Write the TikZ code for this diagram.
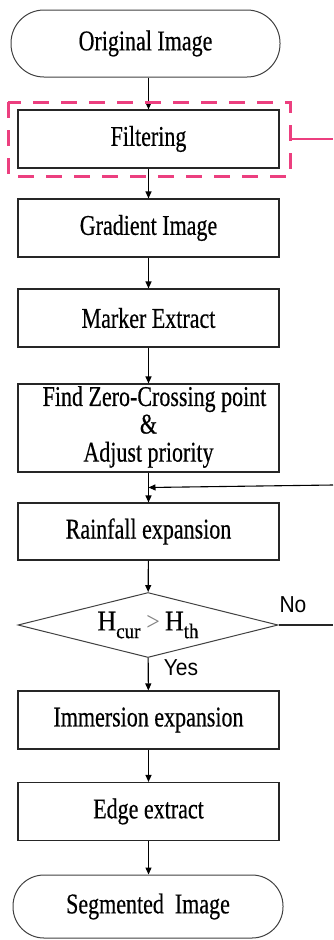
\documentclass[tikz,border=0pt]{standalone}
\usepackage{fontspec}
\usepackage{graphicx}
\setmainfont{Liberation Serif}[FakeBold=0.5]
\newfontfamily\labelsans{Liberation Sans}
\usetikzlibrary{arrows.meta,shapes.geometric,calc}
\definecolor{hilite}{HTML}{EC3F7F}
% step captions are set in a tall, narrow serif
\newcommand{\tallT}[1]{\scalebox{1}[1.3]{#1}}
\newcommand{\tallS}[1]{\scalebox{1}[1.1]{#1}}
\begin{document}
\begin{tikzpicture}[x=1pt,y=-1pt,
  every node/.style={font=\fontsize{22}{27.5}\selectfont},
  stepbox/.style={draw=black!85,line width=1.1pt,minimum width=261pt,minimum height=58pt,inner sep=0pt,align=center},
  terminal/.style={draw=black!75,line width=1pt,minimum width=269pt,minimum height=67pt,rounded corners=33pt},
  decision/.style={draw=black!75,line width=1pt,diamond,aspect=4,minimum width=260pt,minimum height=65pt,inner sep=0pt},
  flow/.style={draw=black,line width=1.1pt,-{Triangle[length=7pt,width=6pt]}},
  tag/.style={font=\labelsans\fontsize{21}{21}\selectfont}]
\useasboundingbox (0,0) rectangle (333,940);

% process chain
\node[terminal] (orig) at (145.5,43.5) {\tallT{Original Image}};
\node[stepbox] (filt) at (148.5,139) {\tallT{Filtering}};
\node[stepbox] (grad) at (148.5,228) {\tallT{Gradient Image}};
\node[stepbox] (mark) at (148.5,318) {\tallT{Marker Extract}};
\node[stepbox,minimum height=88pt] (zero) at (148.5,428)
  {\fontsize{22}{21.2}\selectfont\tallT{\begin{tabular}{@{}c@{}}\hspace{12pt}Find Zero-Crossing point\\\&\\Adjust priority\end{tabular}}};
\node[stepbox,minimum height=57pt] (rain) at (148.5,531.5) {\tallT{Rainfall expansion}};
\node[decision] (cmp) at (148,625)
  {\tallS{\fontsize{26}{26}\selectfont H\raisebox{-7pt}{\fontsize{19}{19}\selectfont cur}\hspace{6pt}{\fontsize{24}{24}\fontspec{Liberation Serif}\color{black!50}>}\hspace{5pt}H\raisebox{-7pt}{\fontsize{19}{19}\selectfont th}}};
\node[stepbox] (imm) at (148.5,720) {\tallT{Immersion expansion}};
\node[stepbox] (edge) at (148.5,811.5) {\tallT{Edge extract}};
\node[terminal,minimum width=270pt,minimum height=63pt,rounded corners=31pt] (seg) at (148,906.5) {\tallT{Segmented\ \ Image}};

% arrows between steps
\draw[flow] (filt.north |- orig.south) -- (filt.north);
\draw[flow] (filt) -- (grad);
\draw[flow] (grad) -- (mark);
\draw[flow] (mark) -- (zero);
\draw[flow] (zero) -- (rain);
\draw[flow] (rain) -- (cmp);
\draw[flow] (cmp) -- (imm);
\draw[flow] (imm) -- (edge);
\draw[flow] (edge) -- (seg.north -| edge.south);

% loop back into the rainfall step
\coordinate (merge) at ($(zero.south)!0.5!(rain.north)$);
\coordinate (loopin) at (333,485);
\draw[flow] (loopin) -- (merge);

% decision branches
\coordinate (noend) at (333,625);
\draw[line width=1.1pt,black!85] (cmp.east) -- (noend);
\node[tag] (nolbl) at (293,605) {\tallS{No}};
\node[tag] (yeslbl) at (181,668) {\tallS{Yes}};

% highlight around the filtering step
\draw[hilite,line width=3pt,dash pattern=on 16pt off 12pt]
  ($(filt.north west)+(-9,-7)$) rectangle ($(filt.south east)+(11,8)$);
\coordinate (hlstart) at (291,139);
\coordinate (hlend) at (333,139);
\draw[hilite,line width=2.5pt] (hlstart) -- (hlend);
\end{tikzpicture}
\end{document}
